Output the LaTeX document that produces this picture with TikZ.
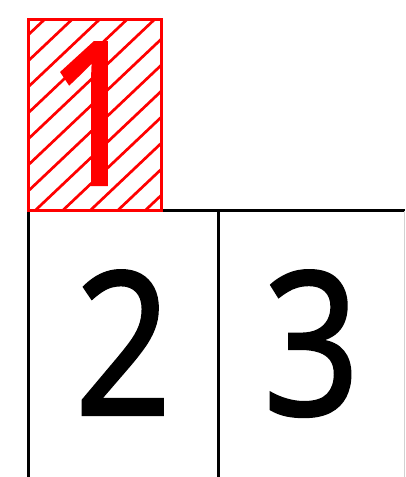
\documentclass[tikz,border=0pt]{standalone}
\usepackage{fontspec}
\setmainfont{Noto Sans}
\newfontfamily\digitfont[FakeBold=1.2]{Noto Sans}
\begin{document}
\begin{tikzpicture}[x=1pt,y=1pt,
  blackline/.style={draw=black,line width=3pt},
  redbox/.style={draw=red,line width=3pt},
  hatch/.style={draw=red,line width=2.7pt},
  digit/.style={inner sep=0pt,anchor=base,xscale=0.85,font=\digitfont\fontsize{200}{200}\selectfont}]
\useasboundingbox (0,0) rectangle (405,-477);
% frame coordinates
\coordinate (tl) at (28,-210);
\coordinate (tm) at (218,-210);
\coordinate (tr) at (405,-210);
\coordinate (bl) at (28,-477);
\coordinate (bm) at (218,-477);
% hatched box
\coordinate (ha) at (28,-19);
\coordinate (hb) at (161,-210);
\begin{scope}
  \clip (ha) rectangle (hb);
  \foreach \k in {0,...,12} {
    \pgfmathsetmacro{\c}{45+27.5*\k}
    \draw[hatch] (\c,-19) -- ++(-280,-265);
  }
\end{scope}
\draw[blackline] (tl) -- (tr);
\draw[blackline] (tl) -- (bl);
\draw[blackline] (tm) -- (bm);
\draw[draw=black!18,line width=1pt] (404,-211) -- (404,-477);
\draw[redbox] (ha) rectangle (hb);
\node[digit,text=red] (one) at (95,-185) {1};
\node[digit] (two) at (123,-415) {2};
\node[digit] (three) at (311.5,-415) {3};
\end{tikzpicture}
\end{document}
